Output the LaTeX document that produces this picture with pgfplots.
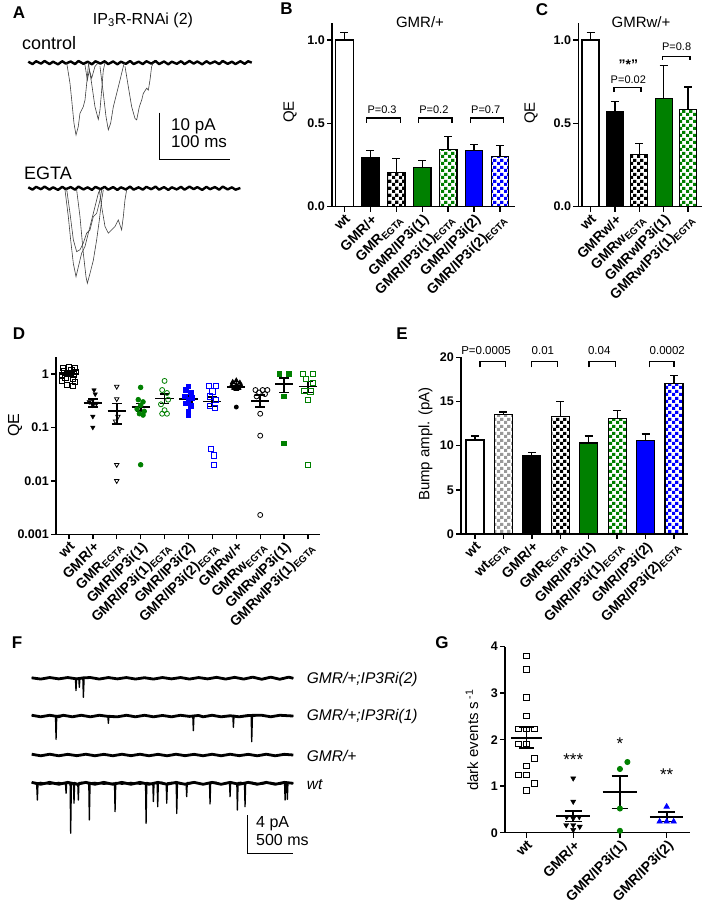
\documentclass[border=0pt]{standalone}
\usepackage{fontspec}
\setmainfont{Liberation Sans}
\usepackage{pgfplots}
\pgfplotsset{compat=1.18}
\usetikzlibrary{patterns}
\pgfdeclarepatternformonly{chk}{\pgfpointorigin}{\pgfqpoint{7pt}{7pt}}{\pgfqpoint{7pt}{7pt}}{%
  \pgfpathrectangle{\pgfpointorigin}{\pgfqpoint{3.5pt}{3.5pt}}%
  \pgfpathrectangle{\pgfqpoint{3.5pt}{3.5pt}}{\pgfqpoint{3.5pt}{3.5pt}}%
  \pgfusepath{fill}}
\definecolor{pgreen}{RGB}{0,128,0}
\definecolor{pblue}{RGB}{0,0,255}
\newcommand\fs[1]{\fontsize{#1}{#1}\selectfont}
\pgfplotsset{
  gp/.style={scale only axis, clip=false, anchor=south west,
    axis lines=left, axis line style={-,line width=1.4pt},
    every tick/.style={black,line width=1.4pt},
    tick align=outside, major tick length=5pt,
    yticklabel style={font=\bfseries\fs{12.5},inner sep=2pt},
    xticklabel style={font=\bfseries\fs{14},rotate=45,anchor=north east,inner sep=1pt},
  },
  pbar/.style={ybar, bar width=#1, draw=black, line width=1.3pt,
    error bars/y dir=plus, error bars/y explicit,
    error bars/error bar style={line width=1.3pt,black,solid},
    error bars/error mark options={line width=1.3pt,mark size=4pt,black,rotate=90}},
  pbar/.default=17.5pt,
  msl/.style={black,line width=1.8pt,forget plot},
  tr/.style={black,line width=2.8pt,line join=round},
  sp/.style={black,line width=1.3pt,line join=round},
  bump/.style={black!75,line width=0.6pt},
  pts/.style={only marks, mark size=2.6pt, mark options={line width=0.8pt}},
  brk/.style={black,line width=1.2pt},
}
\newcommand\meansem[6]{%
  \pgfmathsetmacro\msa{#1-#5}\pgfmathsetmacro\msb{#1+#5}%
  \pgfmathsetmacro\msc{#1-#6}\pgfmathsetmacro\msd{#1+#6}%
  \addplot[msl] coordinates {(\msa,#2) (\msb,#2)};
  \addplot[msl] coordinates {(#1,#3) (#1,#4)};
  \addplot[msl] coordinates {(\msc,#3) (\msd,#3)};
  \addplot[msl] coordinates {(\msc,#4) (\msd,#4)};
}
\begin{document}
\begin{tikzpicture}
\path[use as bounding box, fill=white] (0,0) rectangle (702pt,907pt);

% ---------------- Panel A ----------------
\node[font=\bfseries\fs{17}] at (19pt,894pt) {A};
\node[font=\fs{16}] at (143pt,887pt) {IP\textsubscript{3}R-RNAi (2)};
\node[font=\fs{18},anchor=base west,inner sep=0pt] at (22pt,857pt) {control};
\node[font=\fs{18},anchor=base west,inner sep=0pt] at (24pt,727pt) {EGTA};
\node[font=\fs{17},anchor=base west,inner sep=0pt] at (171pt,776pt) {10 pA};
\node[font=\fs{17},anchor=base west,inner sep=0pt] at (171pt,759pt) {100 ms};
\begin{axis}[at={(28.3pt,607.8pt)}, anchor=south west, scale only axis,
  width=223.4pt, height=246pt, xmin=0, xmax=316, ymin=-50, ymax=2,
  axis lines=none, clip=false]
\addplot[tr,line width=2.4pt] coordinates {(0,0.2)(6,-0.3)(11,0.3)(18,-0.2)(23,0.35)(30,-0.3)(35,0.2)(42,-0.35)(48,0.3)(53,-0.2)(60,0.25)(66,-0.3)(71,0.35)(78,-0.25)(84,0.2)(90,-0.35)(95,0.3)(102,-0.2)(108,0.3)(113,-0.3)(120,0.25)(126,-0.35)(131,0.2)(138,-0.25)(144,0.35)(149,-0.3)(156,0.2)(162,-0.3)(167,0.3)(174,-0.2)(180,0.35)(185,-0.3)(192,0.25)(198,-0.35)(203,0.2)(210,-0.25)(216,0.3)(221,-0.3)(228,0.35)(234,-0.2)(239,0.25)(246,-0.35)(252,0.3)(257,-0.2)(264,0.25)(270,-0.3)(275,0.35)(282,-0.25)(288,0.2)(293,-0.3)(300,0.3)(306,-0.25)(311,0.3)(316,0)};
\addplot[bump] coordinates {(54.3,0)(59,-4.4)(61.4,-7.9)(64.6,-12.8)(67.5,-15.3)(70.7,-13.5)(73.1,-10.7)(77.8,-9.3)(80.2,-7.9)(82.6,-4.4)(84.9,-0.7)(86,0)};
\addplot[bump] coordinates {(84.9,0)(89.6,-4.4)(94.3,-9.3)(99,-12)(101.4,-10)(103.8,-5.8)(106.1,-1.6)(108.5,0)};
\addplot[bump] coordinates {(80.2,-0.5)(83.5,-3.7)(86.4,-1.6)(89.6,-3.3)(94.3,-0.8)(99,0)};
\addplot[bump] coordinates {(101.4,-0.8)(106.1,-6.5)(109.9,-11.4)(113.2,-14.2)(116.5,-12.8)(120.3,-9.3)(125,-6.5)(129.7,-3.7)(134.4,-0.8)(136,0)};
\addplot[bump] coordinates {(136.8,-0.8)(141.5,-5.1)(146.2,-9.3)(150.9,-11.8)(153.3,-12.1)(157.1,-9.3)(160.4,-7.9)(162.7,-6.5)(167.4,-5.4)(169.8,-5.8)(172.1,-3.7)(174.5,-0.8)(176.9,0)};
\addplot[tr,line width=2.4pt] coordinates {(0,-26.35)(6,-26.85)(11,-26.25)(18,-26.75)(23,-26.2)(30,-26.85)(35,-26.35)(42,-26.9)(48,-26.25)(53,-26.75)(60,-26.3)(66,-26.85)(71,-26.2)(78,-26.8)(84,-26.35)(90,-26.9)(95,-26.25)(102,-26.75)(108,-26.25)(113,-26.85)(120,-26.3)(126,-26.9)(131,-26.35)(138,-26.8)(144,-26.2)(149,-26.85)(156,-26.35)(162,-26.85)(167,-26.25)(174,-26.75)(180,-26.2)(185,-26.85)(192,-26.3)(198,-26.9)(203,-26.35)(210,-26.8)(216,-26.25)(221,-26.85)(228,-26.2)(234,-26.75)(239,-26.3)(246,-26.9)(252,-26.25)(257,-26.75)(264,-26.3)(270,-26.85)(275,-26.2)(282,-26.8)(288,-26.35)(293,-26.85)(300,-26.5)};
\addplot[bump] coordinates {(51.9,-26.9)(56.6,-32.55)(59.9,-37.45)(63.7,-42.45)(67.5,-45.25)(70.8,-43.15)(75.5,-40.25)(80.2,-38.85)(84.9,-36.05)(89.6,-33.25)(94.3,-30.45)(99,-27.65)(101.4,-26.75)};
\addplot[bump] coordinates {(54.3,-26.75)(59,-31.85)(63.7,-37.45)(68.4,-39.95)(73.1,-39.55)(77.8,-38.15)(82.5,-36.05)(87.3,-35.35)(92,-32.55)(96.7,-31.85)(101.4,-29.05)(103.8,-26.9)};
\addplot[bump] coordinates {(68.4,-26.9)(73.1,-32.55)(77.8,-40.25)(81.6,-45.25)(83.5,-46.65)(87.3,-44.55)(92,-41.75)(96.7,-37.45)(100.5,-33.25)(103.8,-29.05)(106.1,-26.9)};
\addplot[bump] coordinates {(100.5,-26.9)(103.8,-30.45)(108.5,-34.65)(113.2,-36.05)(117.9,-35.35)(122.6,-34.65)(127.3,-33.25)(132,-35.35)(134.4,-32.55)(136.7,-29.05)(139.1,-26.9)};
\addplot[black,line width=1pt] coordinates {(185.3,-10.57)(185.3,-20.57)(285.3,-20.57)};
\end{axis}

% ---------------- Panel B ----------------
\node[font=\bfseries\fs{17}] at (286.5pt,898pt) {B};
\node[font=\fs{15}] at (420pt,885pt) {GMR/+};
\node[font=\fs{15},rotate=90] at (290pt,795pt) {QE};
\begin{axis}[gp, at={(332pt,700.3pt)}, width=183pt, height=183.4pt,
  xmin=-0.48, xmax=6.58, ymin=0, ymax=1.10,
  ytick={0,0.5,1}, yticklabels={0.0,0.5,1.0},
  xtick={0,...,6},
  xticklabels={wt,GMR/+,GMR\textsubscript{EGTA},GMR/IP3i(1),GMR/IP3i(1)\textsubscript{EGTA},GMR/IP3i(2),GMR/IP3i(2)\textsubscript{EGTA}}]
\addplot[pbar,fill=white] coordinates {(0,1.0) +- (0,0.046)};
\addplot[pbar,fill=black] coordinates {(1,0.293) +- (0,0.044)};
\addplot[pbar,pattern=chk,pattern color=black] coordinates {(2,0.203) +- (0,0.084)};
\addplot[pbar,fill=pgreen] coordinates {(3,0.235) +- (0,0.042)};
\addplot[pbar,pattern=chk,pattern color=pgreen] coordinates {(4,0.345) +- (0,0.077)};
\addplot[pbar,fill=pblue] coordinates {(5,0.337) +- (0,0.038)};
\addplot[pbar,pattern=chk,pattern color=pblue] coordinates {(6,0.301) +- (0,0.064)};
\addplot[brk] coordinates {(0.85,0.502)(0.85,0.532)(2.15,0.532)(2.15,0.502)};
\addplot[brk] coordinates {(2.85,0.502)(2.85,0.532)(4.15,0.532)(4.15,0.502)};
\addplot[brk] coordinates {(4.85,0.502)(4.85,0.532)(6.15,0.532)(6.15,0.502)};
\node[font=\fs{11}] at (axis cs:1.45,0.58) {P=0.3};
\node[font=\fs{11}] at (axis cs:3.45,0.58) {P=0.2};
\node[font=\fs{11}] at (axis cs:5.45,0.58) {P=0.7};
\end{axis}

% ---------------- Panel C ----------------
\node[font=\bfseries\fs{17}] at (542pt,897pt) {C};
\node[font=\fs{15}] at (641pt,885pt) {GMRw/+};
\node[font=\fs{15},rotate=90] at (531pt,794pt) {QE};
\begin{axis}[gp, at={(578.3pt,700.3pt)}, width=123.7pt, height=183.4pt,
  xmin=-0.5, xmax=4.57, ymin=0, ymax=1.10,
  ytick={0,0.5,1}, yticklabels={0.0,0.5,1.0},
  xtick={0,...,4},
  xticklabels={wt,GMRw/+,GMRw\textsubscript{EGTA},GMRwIP3i(1),GMRwIP3i(1)\textsubscript{EGTA}}]
\addplot[pbar=17pt,fill=white] coordinates {(0,1.0) +- (0,0.046)};
\addplot[pbar=17pt,fill=black] coordinates {(1,0.568) +- (0,0.063)};
\addplot[pbar=17pt,pattern=chk,pattern color=black] coordinates {(2,0.313) +- (0,0.065)};
\addplot[pbar=17pt,fill=pgreen] coordinates {(3,0.647) +- (0,0.2)};
\addplot[pbar=17pt,pattern=chk,pattern color=pgreen] coordinates {(4,0.582) +- (0,0.135)};
\addplot[brk] coordinates {(0.96,0.687)(0.96,0.717)(2.07,0.717)(2.07,0.687)};
\addplot[brk] coordinates {(2.96,0.88)(2.96,0.902)(4.08,0.902)(4.08,0.88)};
\node[font=\fs{11}] at (axis cs:1.55,0.761) {P=0.02};
\node[font=\bfseries\fs{14}] at (axis cs:1.55,0.85) {\symbol{34}*\symbol{34}};
\node[font=\fs{11}] at (axis cs:3.53,0.96) {P=0.8};
\end{axis}

% ---------------- Panel D ----------------
\node[font=\bfseries\fs{17}] at (19pt,573pt) {D};
\node[font=\fs{16},rotate=90] at (15pt,482pt) {QE};
\begin{axis}[gp, at={(56pt,372.7pt)}, width=264pt, height=177.6pt,
  xmin=-0.54, xmax=10.5, ymode=log, ymin=0.001, ymax=2.1,
  ytick={0.001,0.01,0.1,1}, yticklabels={0.001,0.01,0.1,1}, yminorticks=false,
  xtick={0,...,10},
  xticklabels={wt,GMR/+,GMR\textsubscript{EGTA},GMR/IP3i(1),GMR/IP3i(1)\textsubscript{EGTA},GMR/IP3i(2),GMR/IP3i(2)\textsubscript{EGTA},GMRw/+,GMRw\textsubscript{EGTA},GMRwIP3i(1),GMRwIP3i(1)\textsubscript{EGTA}}]
\addplot[pts,black,mark=square] coordinates {(-0.25,1.3)(0,1.32)(0.25,1.3)(-0.2,1.15)(0.1,1.18)(0.3,1.1)(-0.3,0.95)(0,1.0)(0.2,0.98)(-0.15,0.85)(0.15,0.82)(-0.3,0.75)(0.25,0.72)(-0.1,0.62)(0.15,0.6)};
\addplot[pts,black,mark=triangle*,mark options={rotate=180}] coordinates {(1.05,0.5)(1.1,0.42)(1,0.33)(0.85,0.3)(1.15,0.28)(1,0.26)(1,0.16)(1,0.1)};
\addplot[pts,black,mark=triangle,mark options={rotate=180,line width=0.8pt}] coordinates {(2,0.58)(2,0.34)(2.05,0.16)(1.95,0.13)(2,0.02)(2,0.01)};
\addplot[pts,pgreen,mark=*,mark size=2.3pt] coordinates {(3,0.56)(2.9,0.33)(3.1,0.3)(3,0.26)(2.85,0.22)(3.15,0.2)(2.95,0.18)(3.1,0.17)(3,0.02)};
\addplot[pts,pgreen,mark=o,mark size=2.5pt] coordinates {(4,0.74)(3.9,0.5)(4.1,0.44)(4.15,0.33)(3.85,0.27)(4,0.21)(4.1,0.18)(3.9,0.18)};
\addplot[pts,pblue,mark=square*,mark size=2.3pt] coordinates {(5,0.58)(4.9,0.5)(5.1,0.45)(4.85,0.38)(5.15,0.36)(5,0.33)(4.9,0.28)(5.1,0.25)(5,0.2)(5,0.17)};
\addplot[pts,pblue,mark=square] coordinates {(5.85,0.6)(6.15,0.6)(6,0.47)(5.9,0.38)(6.15,0.33)(5.9,0.25)(6.1,0.23)(5.95,0.04)(6.05,0.03)(6.05,0.02)};
\addplot[pts,black,mark=triangle*] coordinates {(6.85,0.7)(7,0.75)(7.15,0.68)(6.8,0.6)(7.2,0.6)(7,0.62)(6.9,0.55)(7.1,0.55)(7,0.52)};
\addplot[pts,black,mark=*,mark size=2pt] coordinates {(7,0.24)};
\addplot[pts,black,mark=o,mark size=2.5pt] coordinates {(7.8,0.5)(8.1,0.5)(8.3,0.5)(7.95,0.45)(8.2,0.42)(7.85,0.38)(8,0.18)(8,0.07)(8,0.0023)};
\addplot[pts,pgreen,mark=square*,mark size=2.3pt] coordinates {(8.8,1.0)(9.2,1.0)(9,0.38)(9,0.05)};
\addplot[pts,pgreen,mark=square] coordinates {(9.8,1.0)(10.2,1.0)(9.9,0.82)(10.2,0.68)(9.85,0.48)(10.1,0.47)(10,0.33)(10,0.02)};
\meansem{0}{1.0}{0.92}{1.08}{0.38}{0.2}
\meansem{1}{0.29}{0.24}{0.34}{0.38}{0.2}
\meansem{2}{0.2}{0.116}{0.28}{0.38}{0.2}
\meansem{3}{0.238}{0.2}{0.28}{0.38}{0.2}
\meansem{4}{0.346}{0.28}{0.42}{0.38}{0.2}
\meansem{5}{0.336}{0.30}{0.38}{0.38}{0.2}
\meansem{6}{0.304}{0.245}{0.366}{0.38}{0.2}
\meansem{7}{0.56}{0.53}{0.6}{0.38}{0.2}
\meansem{8}{0.31}{0.24}{0.4}{0.38}{0.2}
\meansem{9}{0.65}{0.45}{0.83}{0.38}{0.2}
\meansem{10}{0.58}{0.45}{0.72}{0.38}{0.2}
\end{axis}

% ---------------- Panel E ----------------
\node[font=\bfseries\fs{17}] at (402pt,573pt) {E};
\node[font=\fs{15},rotate=90] at (425.5pt,463pt) {Bump ampl. (pA)};
\begin{axis}[gp, at={(461pt,373pt)}, width=227.3pt, height=176.7pt,
  xmin=-0.49, xmax=7.5, ymin=0, ymax=20,
  ytick={0,5,10,15,20}, yticklabels={0,5,10,15,20},
  xtick={0,...,7},
  xticklabels={wt,wt\textsubscript{EGTA},GMR/+,GMR\textsubscript{EGTA},GMR/IP3i(1),GMR/IP3i(1)\textsubscript{EGTA},GMR/IP3i(2),GMR/IP3i(2)\textsubscript{EGTA}}]
\addplot[pbar=18pt,fill=white] coordinates {(0,10.64) +- (0,0.45)};
\addplot[pbar=18pt,pattern=chk,pattern color=black!40] coordinates {(1,13.51) +- (0,0.3)};
\addplot[pbar=18pt,fill=black] coordinates {(2,8.83) +- (0,0.42)};
\addplot[pbar=18pt,pattern=chk,pattern color=black] coordinates {(3,13.28) +- (0,1.74)};
\addplot[pbar=18pt,fill=pgreen] coordinates {(4,10.3) +- (0,0.79)};
\addplot[pbar=18pt,pattern=chk,pattern color=pgreen] coordinates {(5,13.09) +- (0,0.87)};
\addplot[pbar=18pt,fill=pblue] coordinates {(6,10.6) +- (0,0.72)};
\addplot[pbar=18pt,pattern=chk,pattern color=pblue] coordinates {(7,17.06) +- (0,0.9)};
\addplot[brk] coordinates {(0.18,18.87)(0.18,19.5)(1.06,19.5)(1.06,18.87)};
\addplot[brk] coordinates {(2.0,18.87)(2.0,19.5)(2.9,19.5)(2.9,18.87)};
\addplot[brk] coordinates {(4.01,18.87)(4.01,19.5)(4.93,19.5)(4.93,18.87)};
\addplot[brk] coordinates {(6.13,18.87)(6.13,19.5)(7.0,19.5)(7.0,18.87)};
\node[font=\fs{11.5}] at (axis cs:0.39,20.8) {P=0.0005};
\node[font=\fs{11.5}] at (axis cs:2.39,20.8) {0.01};
\node[font=\fs{11.5}] at (axis cs:4.37,20.8) {0.04};
\node[font=\fs{11.5}] at (axis cs:6.76,20.8) {0.0002};
\end{axis}

% ---------------- Panel F ----------------
\node[font=\bfseries\fs{17}] at (17pt,264pt) {F};
\node[font=\itshape\fs{15.5},anchor=west,inner sep=0pt] at (306.7pt,228pt) {GMR/+;IP3Ri(2)};
\node[font=\itshape\fs{15.5},anchor=west,inner sep=0pt] at (306.7pt,191pt) {GMR/+;IP3Ri(1)};
\node[font=\itshape\fs{15.5},anchor=west,inner sep=0pt] at (306.7pt,151pt) {GMR/+};
\node[font=\itshape\fs{15.5},anchor=west,inner sep=0pt] at (306.7pt,122pt) {wt};
\node[font=\fs{16},anchor=base west,inner sep=0pt] at (256pt,79pt) {4 pA};
\node[font=\fs{16},anchor=base west,inner sep=0pt] at (256pt,61pt) {500 ms};
\begin{axis}[at={(31.7pt,46.3pt)}, anchor=south west, scale only axis,
  width=261.6pt, height=192pt, xmin=0, xmax=2.9, ymin=-19, ymax=1,
  axis lines=none, clip=false]
% thick noisy baselines
\addplot[tr] coordinates {(0,0.05)(0.1,-0.08)(0.2,0.08)(0.3,-0.06)(0.4,0.08)(0.5,-0.06)(0.575,0.05)(0.65,0.08)(0.75,-0.08)(0.85,0.08)(0.95,-0.06)(1.05,0.08)(1.15,-0.08)(1.25,0.06)(1.35,-0.08)(1.45,0.08)(1.55,-0.06)(1.65,0.08)(1.75,-0.08)(1.85,0.08)(1.95,-0.06)(2.05,0.1)(2.15,-0.08)(2.25,0.1)(2.35,-0.08)(2.45,0.12)(2.55,-0.1)(2.65,0.12)(2.75,-0.1)(2.85,0.12)(2.9,0)};
\addplot[tr] coordinates {(0,-3.85)(0.1,-4.01)(0.2,-3.85)(0.3,-4.0)(0.35,-3.85)(0.45,-4.01)(0.55,-3.85)(0.65,-4.01)(0.75,-3.85)(0.85,-3.97)(0.95,-4.01)(1.05,-3.85)(1.15,-4.01)(1.25,-3.85)(1.35,-4.01)(1.45,-3.87)(1.55,-4.01)(1.65,-3.85)(1.75,-3.97)(1.85,-3.87)(1.9,-4.01)(2.0,-3.85)(2.1,-4.01)(2.2,-3.9)(2.3,-4.01)(2.4,-3.87)(2.55,-3.85)(2.65,-4.01)(2.75,-3.85)(2.9,-3.93)};
\addplot[tr] coordinates {(0,-7.91)(0.1,-8.07)(0.2,-7.91)(0.3,-8.07)(0.4,-7.92)(0.5,-8.06)(0.6,-7.91)(0.7,-8.07)(0.8,-7.92)(0.9,-8.07)(1.0,-7.91)(1.1,-8.06)(1.2,-7.91)(1.3,-8.07)(1.4,-7.92)(1.5,-8.07)(1.6,-7.91)(1.7,-8.06)(1.8,-7.92)(1.9,-8.07)(2.0,-7.91)(2.1,-8.07)(2.2,-7.91)(2.3,-8.06)(2.4,-7.92)(2.5,-8.07)(2.6,-7.91)(2.7,-8.07)(2.8,-7.92)(2.9,-7.99)};
\addplot[tr] coordinates {(0,-10.84)(0.1,-11.04)(0.2,-10.84)(0.3,-11.04)(0.4,-10.84)(0.5,-11.04)(0.6,-10.84)(0.7,-11.04)(0.8,-10.84)(0.9,-11.04)(1.0,-10.84)(1.1,-11.04)(1.2,-10.84)(1.3,-11.04)(1.4,-10.84)(1.5,-11.04)(1.6,-10.84)(1.7,-11.04)(1.8,-10.84)(1.9,-11.04)(2.0,-10.84)(2.1,-11.04)(2.2,-10.84)(2.3,-11.04)(2.4,-10.84)(2.5,-11.04)(2.6,-10.84)(2.7,-11.04)(2.8,-10.84)(2.9,-10.94)};
% thin traces with events
\addplot[sp] coordinates {(0,0.05)(0.1,-0.08)(0.2,0.08)(0.3,-0.06)(0.4,0.08)(0.485,-0.05)(0.491,-1.28)(0.498,0)(0.522,0)(0.528,-0.94)(0.535,0.03)(0.567,-0.03)(0.573,-1.98)(0.581,0.03)(0.65,0.08)(0.75,-0.08)(0.85,0.08)(0.95,-0.06)(1.05,0.08)(1.15,-0.08)(1.25,0.06)(1.35,-0.08)(1.45,0.08)(1.55,-0.06)(1.65,0.08)(1.75,-0.08)(1.85,0.08)(1.95,-0.06)(2.05,0.1)(2.15,-0.08)(2.25,0.1)(2.35,-0.08)(2.45,0.12)(2.55,-0.1)(2.65,0.12)(2.75,-0.1)(2.85,0.12)(2.9,0)};
\addplot[sp] coordinates {(0,-3.85)(0.1,-4.01)(0.2,-3.85)(0.264,-3.97)(0.270,-6.36)(0.278,-3.87)(0.35,-3.85)(0.45,-4.01)(0.55,-3.85)(0.65,-4.01)(0.75,-3.85)(0.844,-3.97)(0.850,-4.69)(0.857,-3.87)(0.95,-4.01)(1.05,-3.85)(1.15,-4.01)(1.25,-3.85)(1.35,-4.01)(1.45,-3.87)(1.55,-4.01)(1.65,-3.85)(1.786,-3.97)(1.792,-5.46)(1.799,-3.87)(1.9,-4.01)(2.0,-3.85)(2.1,-4.01)(2.230,-3.95)(2.236,-5.11)(2.243,-3.87)(2.3,-4.01)(2.433,-3.95)(2.439,-6.60)(2.447,-3.87)(2.55,-3.85)(2.65,-4.01)(2.75,-3.85)(2.9,-3.93)};
\addplot[sp] coordinates {(0,-10.84)(0.055,-11.04)(0.063,-12.68)(0.07,-10.9)(0.1,-10.84)(0.2,-11.04)(0.3,-10.84)(0.375,-11.0)(0.381,-11.98)(0.388,-10.9)(0.426,-11.0)(0.432,-16.14)(0.44,-10.9)(0.463,-11.0)(0.469,-13.02)(0.476,-10.85)(0.511,-11.0)(0.517,-12.68)(0.524,-10.85)(0.56,-10.84)(0.633,-11.0)(0.639,-14.76)(0.647,-10.9)(0.7,-10.84)(0.8,-11.04)(0.918,-10.9)(0.924,-13.89)(0.932,-10.85)(1.0,-11.04)(1.1,-10.84)(1.2,-11.04)(1.262,-10.9)(1.268,-15.11)(1.276,-10.85)(1.343,-11.0)(1.349,-12.84)(1.356,-10.9)(1.391,-11.0)(1.397,-13.37)(1.404,-10.85)(1.45,-10.84)(1.491,-11.0)(1.497,-13.02)(1.504,-10.9)(1.55,-10.84)(1.602,-11.0)(1.608,-14.07)(1.616,-10.85)(1.65,-11.04)(1.712,-10.95)(1.718,-12.33)(1.725,-10.85)(1.8,-10.84)(1.9,-11.04)(1.971,-10.9)(1.977,-13.09)(1.984,-10.85)(2.05,-10.84)(2.1,-11.04)(2.193,-10.9)(2.199,-12.33)(2.206,-10.85)(2.274,-11.0)(2.280,-13.72)(2.288,-10.85)(2.32,-10.84)(2.359,-11.0)(2.365,-13.37)(2.372,-10.85)(2.45,-10.84)(2.55,-11.04)(2.65,-10.84)(2.75,-11.04)(2.803,-10.9)(2.809,-12.68)(2.816,-10.85)(2.828,-10.95)(2.834,-12.61)(2.841,-10.85)(2.9,-10.94)};
\addplot[black,line width=1.2pt] coordinates {(2.395,-14.24)(2.395,-18.23)(2.895,-18.23)};
\end{axis}

% ---------------- Panel G ----------------
\node[font=\bfseries\fs{17}] at (442pt,264pt) {G};
\node[font=\fs{15},rotate=90] at (472pt,167pt) {dark events s\,\textsuperscript{-1}};
\begin{axis}[gp, at={(505pt,74.3pt)}, width=185pt, height=186pt,
  xmin=-0.46, xmax=3.5, ymin=0, ymax=4,
  ytick={0,1,2,3,4}, yticklabels={0,1,2,3,4},
  xtick={0,...,3},
  xticklabels={wt,GMR/+,GMR/IP3i(1),GMR/IP3i(2)}]
\addplot[pts,black,mark=square,mark size=2.8pt] coordinates {(0,3.8)(0,3.51)(0,2.91)(0,2.51)(-0.17,2.23)(0,2.23)(0.17,2.23)(-0.17,1.91)(0,1.91)(0.17,1.6)(0,1.44)(-0.17,1.24)(0,1.24)(0.17,1.06)(0,0.91)};
\addplot[pts,black,mark=triangle*,mark size=3pt,mark options={rotate=180}] coordinates {(1,1.17)(1,0.67)(0.86,0.34)(1,0.31)(1.13,0.34)(0.85,0.165)(1,0.165)(1.14,0.13)(1,0.06)};
\addplot[pts,pgreen,mark=*,mark size=2.6pt] coordinates {(2.16,1.52)(2,1.37)(2,0.52)(2,0.04)};
\addplot[pts,pblue,mark=triangle*,mark size=3pt] coordinates {(3,0.56)(2.85,0.24)(3,0.24)(3.15,0.24)};
\meansem{0}{2.04}{1.82}{2.27}{0.33}{0.16}
\meansem{1}{0.358}{0.24}{0.47}{0.36}{0.18}
\meansem{2}{0.867}{0.52}{1.22}{0.37}{0.18}
\meansem{3}{0.344}{0.24}{0.45}{0.36}{0.18}
\node[font=\fs{17}] at (axis cs:1,1.58) {***};
\node[font=\fs{17}] at (axis cs:2,1.91) {*};
\node[font=\fs{17}] at (axis cs:3,1.24) {**};
\end{axis}
\end{tikzpicture}
\end{document}
